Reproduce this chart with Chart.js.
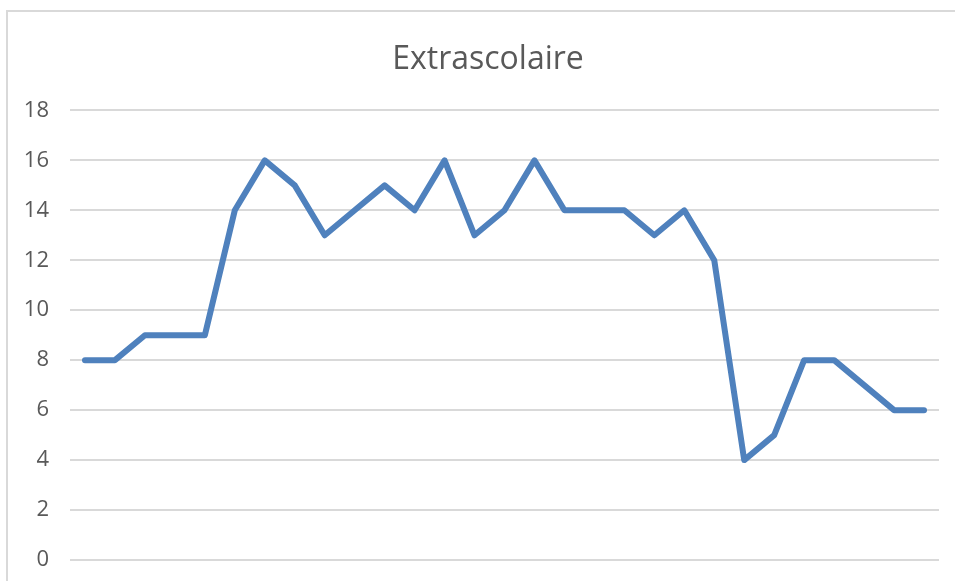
<!DOCTYPE html>
<html>
<head>
<meta charset="utf-8">
<script src="https://cdn.jsdelivr.net/npm/chart.js@4.4.1/dist/chart.umd.min.js"></script>
<style>
    html, body { margin: 0; padding: 0; background: #ffffff; overflow: hidden; }
    #frame {
        position: absolute; left: 6px; top: 10px; width: 1000px; height: 620px;
        border-left: 2px solid #d9d9d9; border-top: 2px solid #d9d9d9;
    }
    #wrap { position: absolute; left: 0; top: 0; width: 955px; height: 581px; overflow: hidden; }
</style>
</head>
<body>
<div id="frame"></div>
<div id="wrap"><canvas id="lineChart" width="976" height="581"></canvas></div>
<script>
// Données du graphique
const categories = ['1', '2', '3', '4', '5', '6', '7', '8', '9', '10', '11', '12', '13', '14', '15',
    '16', '17', '18', '19', '20', '21', '22', '23', '24', '25', '26', '27', '28', '29'];
const extrascolaire = [8, 8, 9, 9, 9, 14, 16, 15, 13, 14, 15, 14, 16, 13, 14,
    16, 14, 14, 14, 13, 14, 12, 4, 5, 8, 8, 7, 6, 6];
const yTicks = [0, 2, 4, 6, 8, 10, 12, 14, 16, 18];

const ctx = document.getElementById('lineChart').getContext('2d');
new Chart(ctx, {
    type: 'line',
    data: {
        labels: categories,
        datasets: [{
            label: 'Extrascolaire',
            data: extrascolaire,
            borderColor: '#4f81bd',
            borderWidth: 6,
            borderCapStyle: 'round',
            borderJoinStyle: 'round',
            pointRadius: 0,
            fill: false,
            tension: 0
        }]
    },
    options: {
        responsive: false,
        animation: false,
        layout: {
            padding: { top: 41, right: 0, bottom: 21, left: 0 }
        },
        scales: {
            x: {
                display: false,
                offset: true
            },
            y: {
                min: 0,
                max: 18,
                afterBuildTicks: scale => {
                    scale.ticks = yTicks.map(v => ({ value: v }));
                },
                afterFit: scale => {
                    scale.width = 70;
                    // pas de marge supplémentaire haut/bas due aux étiquettes
                    scale.paddingTop = 0;
                    scale.paddingBottom = 0;
                },
                border: { display: false },
                grid: {
                    color: '#d9d9d9',
                    lineWidth: 2,
                    drawTicks: false
                },
                ticks: {
                    color: '#595959',
                    padding: 21,
                    font: { family: 'Open Sans', size: 22 }
                }
            },
            // axe vide à droite : marge du graphique (le titre reste centré sur le cadre)
            yRight: {
                position: 'right',
                display: true,
                border: { display: false },
                grid: { display: false },
                ticks: { display: false },
                afterFit: scale => {
                    scale.width = 37;
                    scale.paddingTop = 0;
                    scale.paddingBottom = 0;
                }
            }
        },
        plugins: {
            legend: { display: false },
            tooltip: { enabled: false },
            title: {
                display: true,
                text: 'Extrascolaire',
                color: '#595959',
                padding: { top: 0, bottom: 31 },
                font: { family: 'Open Sans', size: 32, weight: 'normal' }
            }
        }
    }
});
</script>
</body>
</html>
